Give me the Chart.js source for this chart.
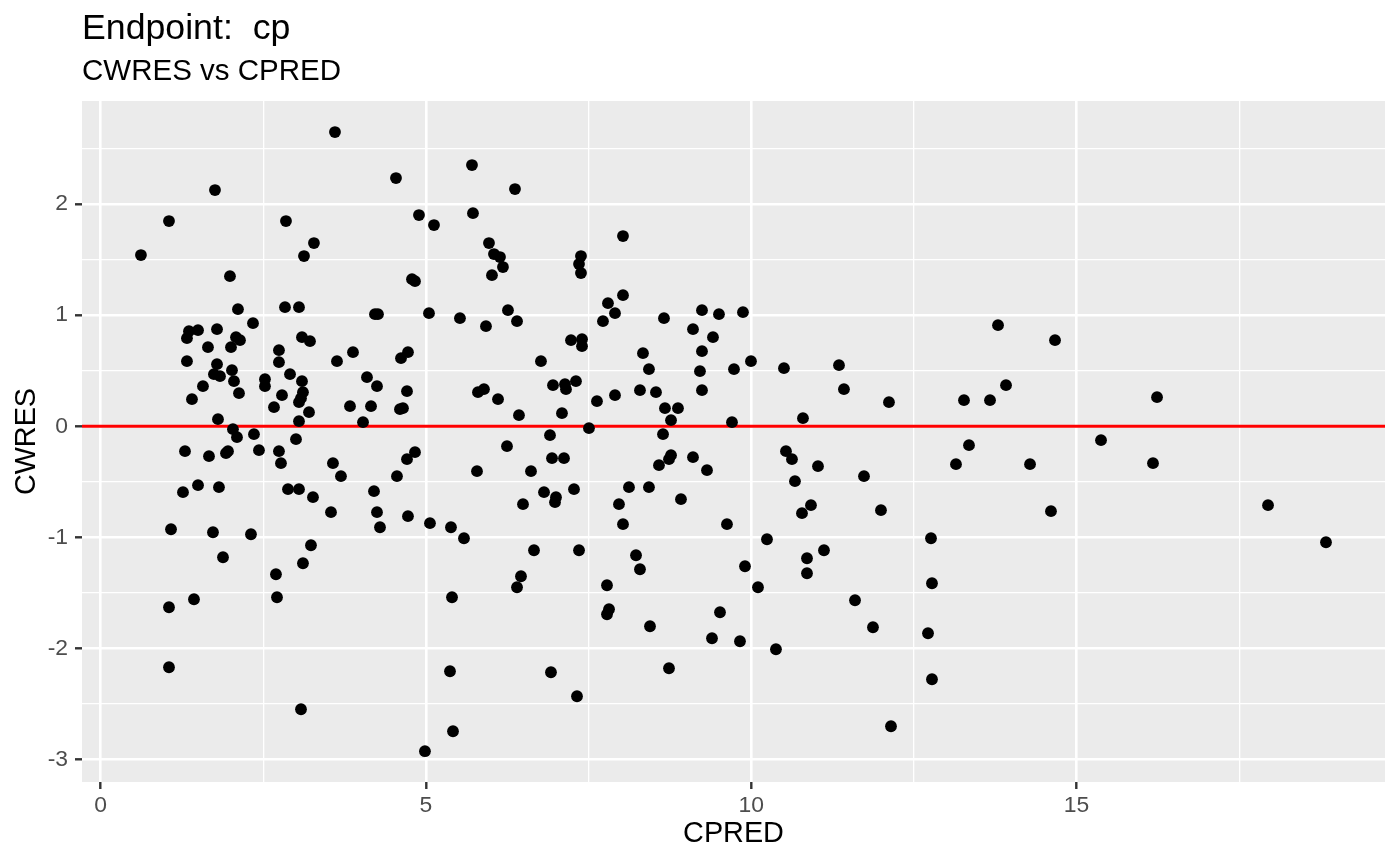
<!DOCTYPE html>
<html>
<head>
<meta charset="utf-8">
<title>CWRES vs CPRED</title>
<script src="https://cdn.jsdelivr.net/npm/chart.js@4"></script>
<style>
    html, body { margin: 0; padding: 0; background: #ffffff; }
    #wrap { width: 1400px; height: 865px; }
</style>
</head>
<body>
<div id="wrap"><canvas id="chart" width="1400" height="865"></canvas></div>
<script>
// ==================== DATA ====================
// Valores (CPRED, CWRES)

const cpred = [
    0.619, 1.050, 1.757, 1.081, 1.050, 1.050, 1.357, 1.326, 1.326, 1.496,
    1.403, 1.296, 1.265, 1.496, 1.434, 1.572, 1.649, 1.665, 1.726, 1.788,
    1.788, 1.741, 1.834, 1.803, 1.818, 1.880, 1.987, 2.003, 2.018, 2.049,
    2.126, 2.033, 2.095, 1.926, 1.957, 2.110, 2.080, 2.141, 2.341, 2.310,
    2.356, 2.433, 2.525, 2.525, 2.664, 2.694, 2.710, 2.740, 2.740, 2.740,
    2.771, 2.787, 2.833, 2.848, 2.879, 2.910, 3.002, 3.048, 3.048, 3.048,
    3.109, 3.094, 3.079, 3.048, 3.109, 3.079, 3.125, 3.094, 3.217, 3.202,
    3.263, 3.232, 3.278, 3.601, 3.540, 3.570, 3.632, 3.693, 3.832, 3.878,
    4.032, 4.093, 4.155, 4.216, 4.262, 4.201, 4.247, 4.247, 4.293, 4.539,
    4.554, 4.600, 4.646, 4.616, 4.708, 4.708, 4.723, 4.723, 4.785, 4.831,
    4.831, 4.892, 5.046, 5.061, 4.984, 5.123, 5.384, 5.400, 5.369, 5.415,
    5.522, 5.584, 5.707, 5.722, 5.784, 5.799, 5.891, 5.922, 5.968, 6.014,
    6.045, 6.107, 6.137, 6.183, 6.260, 6.245, 6.368, 6.399, 6.429, 6.399,
    6.460, 6.491, 6.614, 6.660, 6.767, 6.814, 6.906, 6.952, 6.921, 6.937,
    6.998, 6.983, 7.090, 7.121, 7.136, 7.152, 7.229, 7.275, 7.305, 7.321,
    7.352, 7.352, 7.382, 7.382, 7.398, 7.398, 7.505, 7.628, 7.720, 7.797,
    7.782, 7.782, 7.813, 7.905, 7.905, 7.966, 8.028, 8.028, 8.028, 8.120,
    8.228, 8.289, 8.289, 8.335, 8.427, 8.427, 8.443, 8.535, 8.581, 8.643,
    8.658, 8.673, 8.735, 8.766, 8.735, 8.766, 8.873, 8.919, 9.104, 9.104,
    9.211, 9.242, 9.242, 9.242, 9.319, 9.411, 9.396, 9.503, 9.519, 9.626,
    9.734, 9.703, 9.826, 9.872, 9.903, 9.995, 10.103, 10.241, 10.379, 10.502,
    10.533, 10.625, 10.671, 10.779, 10.794, 10.856, 10.856, 10.917, 11.025, 11.117,
    11.348, 11.424, 11.594, 11.732, 11.870, 11.993, 12.116, 12.147, 12.716, 12.777,
    12.762, 12.777, 13.146, 13.269, 13.346, 13.669, 13.792, 13.915, 14.284, 14.606,
    14.668, 15.375, 16.174, 16.236, 17.942, 18.833
];

const cwres = [
    1.541, 1.847, 2.126, -0.927, -1.629, -2.169, 0.856, 0.793, 0.586, 0.865,
    0.244, -0.224, -0.593, -0.530, -1.557, 0.361, 0.712, -0.269, -0.954, 0.874,
    0.559, 0.469, 0.451, 0.064, -0.548, -1.179, 1.351, 0.712, 0.505, 0.406,
    0.298, -0.026, -0.098, -0.242, -0.224, 1.054, 0.802, 0.775, 0.928, -0.972,
    -0.071, -0.215, 0.361, 0.424, 0.172, -1.332, -1.539, 0.685, 0.577, -0.224,
    -0.332, 0.280, 1.072, 1.847, -0.566, 0.469, -0.116, -0.566, 1.072, 0.217,
    0.307, 0.406, 0.253, 0.046, -1.233, -2.547, 1.532, 0.802, 0.766, 0.127,
    -0.638, -1.071, 1.649, 2.648, -0.773, -0.332, 0.586, -0.449, 0.181, 0.667,
    0.037, 0.442, 0.181, 1.009, 1.009, -0.584, -0.773, 0.361, -0.909, 2.234,
    -0.449, 0.154, 0.163, 0.613, 0.316, -0.296, -0.809, 0.667, 1.324, 1.306,
    -0.233, 1.901, 1.018, -0.872, -2.925, 1.811, -0.909, -1.539, -2.205, -2.745,
    0.973, -1.008, 2.351, 1.918, -0.404, 0.307, 0.334, 0.901, 1.649, 1.360,
    1.550, 0.244, 1.523, 1.433, 1.045, -0.179, 2.135, 0.946, 0.100, -1.449,
    -1.350, -0.701, -0.404, -1.116, 0.586, -0.593, -0.080, 0.370, -2.214, -0.287,
    -0.638, -0.683, 0.118, -0.287, 0.379, 0.334, 0.775, -0.566, 0.406, -2.430,
    -1.116, 1.460, 1.532, 1.379, 0.784, 0.721, -0.017, 0.226, 0.946, 1.108,
    -1.431, -1.692, -1.647, 1.018, 0.280, -0.701, -0.881, 1.712, 1.180, -0.548,
    -1.161, 0.325, -1.287, 0.658, 0.514, -0.548, -1.800, 0.307, -0.350, -0.071,
    0.973, 0.163, -2.178, 0.055, -0.296, -0.260, 0.163, -0.656, 0.874, -0.278,
    0.496, 0.325, 0.676, 1.045, -0.395, 0.802, -1.908, 1.009, -1.674, -0.881,
    0.514, 0.037, -1.935, 1.027, -1.260, 0.586, -1.449, -1.017, -2.007, 0.523,
    -0.224, -0.296, -0.494, -0.782, 0.073, -1.188, -1.323, -0.710, -0.359, -1.116,
    0.550, 0.334, -1.566, -0.449, -1.809, -0.755, 0.217, -2.700, -1.863, -2.277,
    -1.008, -1.413, -0.341, 0.235, -0.170, 0.235, 0.910, 0.370, -0.341, -0.764,
    0.775, -0.125, -0.332, 0.262, -0.710, -1.044
];

// Cortes de los ejes (principales y secundarios, estilo ggplot)
const xMajor = [0, 5, 10, 15];
const xMinor = [2.5, 7.5, 12.5, 17.5];
const yMajor = [-3, -2, -1, 0, 1, 2];
const yMinor = [-2.5, -1.5, -0.5, 0.5, 1.5, 2.5];

// Límites del panel (rango de datos + 5%)
const xLimits = [-0.287, 19.74];
const yLimits = [-3.202, 2.927];

// Línea de referencia
const hlineY = 0;

const titleText = 'Endpoint:  cp';
const subtitleText = 'CWRES vs CPRED';
const xLabel = 'CPRED';
const yLabel = 'CWRES';

// ==================== CHART ====================

const FONT = '"Liberation Sans", Arial, Helvetica, sans-serif';
const panelBg = '#EBEBEB';

const points = cpred.map((x, i) => ({ x: x, y: cwres[i] }));

// Fondo gris del panel
const panelBackground = {
    id: 'panelBackground',
    beforeDraw(chart) {
        const { ctx, chartArea: a } = chart;
        ctx.save();
        ctx.fillStyle = panelBg;
        ctx.fillRect(a.left, a.top, a.right - a.left, a.bottom - a.top);
        ctx.restore();
    }
};

function makeTicks(major, minor) {
    return major.concat(minor).sort((a, b) => a - b).map(v => ({ value: v }));
}

function gridOptions(major) {
    const isMajor = v => major.includes(v);
    return {
        color: '#FFFFFF',
        lineWidth: ctx => (ctx.tick && isMajor(ctx.tick.value)) ? 2.6 : 1.3,
        tickColor: ctx => (ctx.tick && isMajor(ctx.tick.value)) ? '#333333' : 'rgba(0,0,0,0)',
        tickWidth: 2.4,
        tickLength: 7,
        drawTicks: true
    };
}

const ctx = document.getElementById('chart').getContext('2d');

new Chart(ctx, {
    type: 'scatter',
    data: {
        datasets: [
            {
                label: 'CWRES',
                data: points,
                backgroundColor: '#000000',
                borderWidth: 0,
                pointRadius: 5.9,
                pointHoverRadius: 5.9,
                order: 0
            },
            {
                type: 'line',
                label: 'cero',
                data: [{ x: xLimits[0], y: hlineY }, { x: xLimits[1], y: hlineY }],
                borderColor: '#FF0000',
                borderWidth: 2.9,
                pointRadius: 0,
                fill: false,
                order: 1
            }
        ]
    },
    options: {
        responsive: false,
        animation: false,
        devicePixelRatio: 1,
        layout: {
            padding: { top: 0, right: 15, bottom: 0, left: 0 }
        },
        plugins: {
            legend: { display: false },
            tooltip: { enabled: false },
            title: {
                display: true,
                text: titleText,
                align: 'start',
                fullSize: false,
                color: '#000000',
                font: { family: FONT, size: 35.7, weight: 'normal', lineHeight: 1.2 },
                padding: { top: 7.6, bottom: 0 }
            },
            subtitle: {
                display: true,
                text: subtitleText,
                align: 'start',
                fullSize: false,
                color: '#000000',
                font: { family: FONT, size: 29.5, weight: 'normal', lineHeight: 1.2 },
                padding: { top: 3.9, bottom: 11.3 }
            }
        },
        scales: {
            x: {
                type: 'linear',
                min: xLimits[0],
                max: xLimits[1],
                afterBuildTicks: scale => { scale.ticks = makeTicks(xMajor, xMinor); },
                afterFit: scale => { scale.height = 83; },
                ticks: {
                    autoSkip: false,
                    maxRotation: 0,
                    padding: 3,
                    color: '#4D4D4D',
                    font: { family: FONT, size: 22.9 },
                    callback: value => xMajor.includes(value) ? String(value) : ''
                },
                grid: gridOptions(xMajor),
                border: { display: false },
                title: {
                    display: true,
                    text: xLabel,
                    color: '#000000',
                    font: { family: FONT, size: 28.8, lineHeight: 1.2 },
                    padding: { top: 0, bottom: 13.8 }
                }
            },
            y: {
                type: 'linear',
                min: yLimits[0],
                max: yLimits[1],
                afterBuildTicks: scale => { scale.ticks = makeTicks(yMajor, yMinor); },
                afterFit: scale => { scale.width = 82; },
                ticks: {
                    autoSkip: false,
                    padding: 7,
                    color: '#4D4D4D',
                    font: { family: FONT, size: 22.9 },
                    callback: value => yMajor.includes(value) ? String(value) : ''
                },
                grid: gridOptions(yMajor),
                border: { display: false },
                title: {
                    display: true,
                    text: yLabel,
                    color: '#000000',
                    font: { family: FONT, size: 28.8, lineHeight: 1.2 },
                    padding: { top: 9.8, bottom: 0 }
                }
            }
        }
    },
    plugins: [panelBackground]
});
</script>
</body>
</html>
